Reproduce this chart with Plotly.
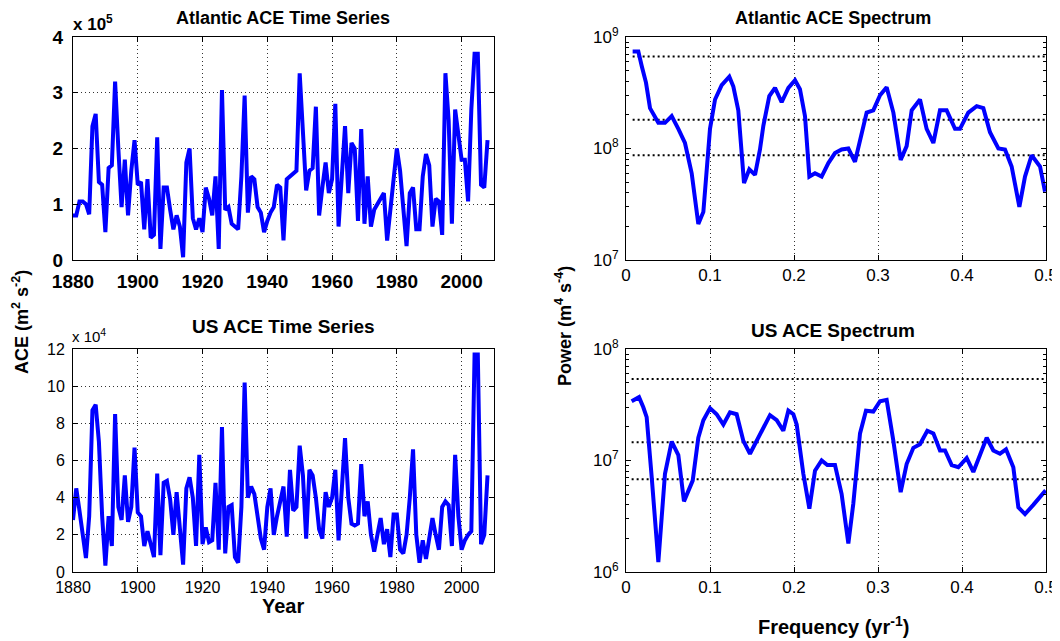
import plotly.graph_objects as go

# ---------------- data ----------------
years = list(range(1880, 2009))

# Atlantic ACE (units of 1e5 m^2 s^-2)
atl_ace = [
    0.80, 0.80, 1.05, 1.05, 1.00, 0.82, 2.40, 2.62, 1.40, 1.35,
    0.50, 1.65, 1.70, 3.20, 2.00, 0.95, 1.80, 0.80, 1.60, 2.15,
    1.35, 1.40, 0.55, 1.45, 0.40, 0.45, 2.20, 0.20, 1.30, 1.30,
    0.90, 0.55, 0.80, 0.60, 0.05, 1.75, 2.00, 0.75, 0.55, 0.75,
    0.50, 1.30, 1.10, 0.80, 1.50, 0.20, 3.05, 0.90, 0.95, 0.65,
    0.60, 0.55, 1.50, 2.95, 0.85, 1.50, 1.45, 0.95, 0.85, 0.50,
    0.70, 0.85, 0.95, 1.35, 1.30, 0.35, 1.45, 1.50, 1.55, 1.60,
    3.35, 2.20, 1.25, 1.60, 1.65, 2.75, 0.80, 1.30, 1.75, 1.20,
    1.45, 2.80, 0.60, 1.50, 2.40, 1.20, 2.10, 2.00, 0.70, 2.35,
    0.65, 1.50, 0.60, 0.90, 1.00, 1.10, 1.20, 0.35, 0.95, 1.50,
    2.00, 1.60, 0.90, 0.25, 1.20, 1.30, 0.55, 0.55, 1.50, 1.90,
    1.70, 0.60, 1.10, 1.05, 0.45, 3.35, 2.50, 0.65, 2.70, 2.30,
    1.80, 1.80, 1.05, 2.70, 3.70, 3.70, 1.35, 1.30, 2.15,
]

# US ACE (units of 1e4 m^2 s^-2)
us_ace = [
    2.8, 4.5, 3.3, 2.0, 0.75, 3.0, 8.7, 9.0, 7.0, 3.0,
    0.35, 3.0, 1.4, 8.5, 3.5, 2.8, 5.2, 2.7, 3.5, 6.7,
    3.2, 3.0, 1.4, 2.2, 1.5, 0.8, 5.3, 0.9, 4.8, 4.9,
    3.9, 2.0, 4.3, 2.0, 0.4, 4.5, 5.1, 4.0, 1.4, 6.3,
    1.5, 2.4, 1.6, 1.7, 4.8, 1.2, 7.8, 1.0, 3.5, 3.6,
    0.8, 0.5, 3.5, 10.2, 4.0, 4.6, 4.2, 3.0, 1.8, 1.2,
    3.5, 4.5, 2.0, 3.0, 3.8, 4.6, 1.9, 5.5, 3.3, 3.5,
    6.8, 5.2, 1.8, 5.5, 5.2, 4.0, 2.3, 1.8, 4.3, 3.5,
    4.0, 5.5, 1.7, 4.8, 7.2, 4.0, 2.6, 2.5, 2.6, 5.8,
    3.0, 3.8, 2.0, 1.1, 2.0, 2.9, 1.5, 2.3, 0.8, 3.1,
    3.1, 1.2, 1.0, 2.0, 4.0, 6.6, 2.0, 0.5, 1.7, 0.7,
    1.8, 2.9, 2.0, 1.2, 3.5, 3.8, 3.6, 1.4, 6.3, 3.0,
    1.2, 1.7, 2.0, 2.2, 11.7, 11.7, 1.5, 2.0, 5.2,
]

# Atlantic ACE spectrum
atl_freq = [
    0.0079, 0.0147, 0.0187, 0.0238, 0.0286, 0.0333, 0.0385, 0.0464, 0.0544, 0.0623,
    0.0702, 0.0782, 0.0861, 0.0921, 0.0960, 0.1000, 0.1060, 0.1139, 0.1230, 0.1278,
    0.1337, 0.1405, 0.1468, 0.1536, 0.1595, 0.1635, 0.1706, 0.1774, 0.1853, 0.1933,
    0.2012, 0.2071, 0.2131, 0.2183, 0.2250, 0.2329, 0.2409, 0.2488, 0.2567, 0.2647,
    0.2726, 0.2786, 0.2865, 0.2944, 0.3024, 0.3103, 0.3183, 0.3270, 0.3341, 0.3401,
    0.3500, 0.3579, 0.3659, 0.3738, 0.3817, 0.3917, 0.3976, 0.4075, 0.4175, 0.4254,
    0.4333, 0.4433, 0.4512, 0.4591, 0.4683, 0.4750, 0.4829, 0.4929, 0.4988,
]
atl_power = [
    7.4e8, 7.4e8, 5.5e8, 3.9e8, 2.3e8, 1.95e8, 1.7e8, 1.7e8, 1.95e8, 1.5e8,
    1.12e8, 6.0e7, 2.1e7, 2.7e7, 6.0e7, 1.5e8, 2.75e8, 3.7e8, 4.4e8, 3.6e8,
    2.2e8, 4.9e7, 6.5e7, 5.8e7, 9.8e7, 1.6e8, 2.95e8, 3.5e8, 2.6e8, 3.5e8,
    4.1e8, 3.4e8, 1.95e8, 5.6e7, 6.0e7, 5.6e7, 7.4e7, 9.1e7, 9.8e7, 1.0e8,
    7.6e7, 1.2e8, 2.1e8, 2.2e8, 3.0e8, 3.55e8, 2.1e8, 7.9e7, 1.05e8, 2.2e8,
    2.75e8, 1.5e8, 1.12e8, 2.2e8, 2.2e8, 1.5e8, 1.5e8, 2.1e8, 2.4e8, 2.3e8,
    1.4e8, 1.0e8, 9.8e7, 6.9e7, 3.0e7, 5.6e7, 8.7e7, 6.9e7, 4.1e7,
]
atl_sig_levels = [6.7e8, 1.81e8, 8.7e7]

# US ACE spectrum
us_freq = [
    0.0067, 0.0155, 0.0206, 0.0246, 0.0306, 0.0385, 0.0425, 0.0464, 0.0544, 0.0623,
    0.0690, 0.0742, 0.0794, 0.0861, 0.0921, 0.1000, 0.1079, 0.1159, 0.1238, 0.1317,
    0.1397, 0.1476, 0.1556, 0.1635, 0.1714, 0.1794, 0.1873, 0.1933, 0.1992, 0.2032,
    0.2111, 0.2183, 0.2250, 0.2329, 0.2397, 0.2488, 0.2567, 0.2647, 0.2706, 0.2786,
    0.2857, 0.2944, 0.3024, 0.3103, 0.3183, 0.3270, 0.3341, 0.3421, 0.3500, 0.3587,
    0.3659, 0.3738, 0.3798, 0.3877, 0.3956, 0.4056, 0.4135, 0.4214, 0.4294, 0.4373,
    0.4452, 0.4524, 0.4611, 0.4671, 0.4750, 0.4849, 0.4996,
]
us_power = [
    3.4e7, 3.7e7, 3.0e7, 2.45e7, 7.1e6, 1.23e6, 3.1e6, 7.6e6, 1.48e7, 1.12e7,
    4.3e6, 5.4e6, 6.6e6, 1.6e7, 2.3e7, 2.95e7, 2.6e7, 2.1e7, 2.7e7, 2.6e7,
    1.5e7, 1.15e7, 1.5e7, 1.95e7, 2.55e7, 2.3e7, 1.85e7, 2.8e7, 2.6e7, 2.1e7,
    7.6e6, 3.7e6, 8.1e6, 1.0e7, 9.1e6, 9.1e6, 5.0e6, 1.8e6, 4.1e6, 1.75e7,
    2.8e7, 2.75e7, 3.4e7, 3.5e7, 1.5e7, 5.2e6, 9.3e6, 1.3e7, 1.4e7, 1.85e7,
    1.75e7, 1.23e7, 1.23e7, 9.1e6, 8.7e6, 1.05e7, 7.9e6, 1.12e7, 1.6e7, 1.23e7,
    1.15e7, 1.26e7, 8.7e6, 3.8e6, 3.3e6, 4.0e6, 5.4e6,
]
us_sig_levels = [5.37e7, 1.46e7, 6.8e6]

year_ticks = [1880, 1900, 1920, 1940, 1960, 1980, 2000]
freq_ticks = [0, 0.1, 0.2, 0.3, 0.4, 0.5]
freq_ticklabels = ["0", "0.1", "0.2", "0.3", "0.4", "0.5"]

# ---------------- figure ----------------
# The page body has an 8 px margin, so the figure is 8 px smaller than the
# window and all positions are measured from the window corner minus 8 px.
OFF = 8
W, H = 1060 - OFF, 641 - OFF
FONT = "Liberation Sans, Arial, Helvetica, sans-serif"
BLUE = "#0000FF"


def px_x(p):
    return (p - OFF) / W


def px_y(p):
    return 1 - (p - OFF) / H


fig = go.Figure()

line_style = dict(color=BLUE, width=4)
fig.add_trace(go.Scatter(x=years, y=atl_ace, mode="lines", line=line_style,
                         xaxis="x", yaxis="y", showlegend=False))
fig.add_trace(go.Scatter(x=years, y=us_ace, mode="lines", line=line_style,
                         xaxis="x2", yaxis="y2", showlegend=False))

sig_style = dict(color="black", width=2, dash="2px,3px")
for lvl in atl_sig_levels:
    fig.add_trace(go.Scatter(x=[min(atl_freq), max(atl_freq)], y=[lvl, lvl], mode="lines",
                             line=sig_style, xaxis="x3", yaxis="y3", showlegend=False))
for lvl in us_sig_levels:
    fig.add_trace(go.Scatter(x=[min(us_freq), max(us_freq)], y=[lvl, lvl], mode="lines",
                             line=sig_style, xaxis="x4", yaxis="y4", showlegend=False))

fig.add_trace(go.Scatter(x=atl_freq, y=atl_power, mode="lines", line=line_style,
                         xaxis="x3", yaxis="y3", showlegend=False))
fig.add_trace(go.Scatter(x=us_freq, y=us_power, mode="lines", line=line_style,
                         xaxis="x4", yaxis="y4", showlegend=False))

left_dom = [px_x(73), px_x(494)]
right_dom = [px_x(626), px_x(1046)]
top_dom = [px_y(260), px_y(37)]
bot_dom = [px_y(572), px_y(349)]

common = dict(showline=True, linecolor="black", linewidth=1, mirror="ticks",
              ticks="inside", ticklen=5, tickcolor="black", zeroline=False,
              automargin=False)
grid = dict(showgrid=True, gridcolor="#333333", gridwidth=1, griddash="1px,3px")

tf_bold = dict(family=FONT, size=19, color="black", weight="bold")
tf_reg = dict(family=FONT, size=16, color="black")
tf_spec = dict(family=FONT, size=17, color="black")


def log_minor(lo, hi):
    return [m * 10 ** e for e in range(lo, hi) for m in range(2, 10)]


fig.update_layout(
    width=W, height=H, margin=dict(l=0, r=0, t=0, b=0, autoexpand=False),
    paper_bgcolor="white", plot_bgcolor="white",
    xaxis=dict(domain=left_dom, anchor="y", range=[1880, 2010], tickvals=year_ticks,
               tickfont=tf_bold, ticklabelstandoff=4, **common, **grid),
    yaxis=dict(domain=top_dom, anchor="x", range=[0, 4], tickvals=[0, 1, 2, 3, 4],
               tickfont=tf_bold, ticklabelstandoff=5, **common, **grid),
    xaxis2=dict(domain=left_dom, anchor="y2", range=[1880, 2010], tickvals=year_ticks,
                tickfont=tf_reg, ticklabelstandoff=1, **common, **grid),
    yaxis2=dict(domain=bot_dom, anchor="x2", range=[0, 12], tickvals=[0, 2, 4, 6, 8, 10, 12],
                tickfont=tf_reg, ticklabelstandoff=4, **common, **grid),
    xaxis3=dict(domain=right_dom, anchor="y3", range=[0, 0.5], tickvals=freq_ticks,
                ticktext=freq_ticklabels, tickfont=tf_spec, **common, **grid),
    yaxis3=dict(domain=top_dom, anchor="x3", type="log", range=[7, 9],
                tickvals=[1e7, 1e8, 1e9],
                ticktext=["10<sup>7</sup>", "10<sup>8</sup>", "10<sup>9</sup>"],
                tickfont=tf_spec, showgrid=False, ticklabelstandoff=3,
                minor=dict(tickmode="array", tickvals=log_minor(7, 9), ticks="inside",
                           ticklen=3, tickcolor="black", showgrid=False),
                **common),
    xaxis4=dict(domain=right_dom, anchor="y4", range=[0, 0.5], tickvals=freq_ticks,
                ticktext=freq_ticklabels, tickfont=tf_spec, **common, **grid),
    yaxis4=dict(domain=bot_dom, anchor="x4", type="log", range=[6, 8],
                tickvals=[1e6, 1e7, 1e8],
                ticktext=["10<sup>6</sup>", "10<sup>7</sup>", "10<sup>8</sup>"],
                tickfont=tf_spec, showgrid=False, ticklabelstandoff=3,
                minor=dict(tickmode="array", tickvals=log_minor(6, 8), ticks="inside",
                           ticklen=3, tickcolor="black", showgrid=False),
                **common),
)


def ann(text, xp, yp, size=16, bold=True, angle=0, xanchor="center"):
    fig.add_annotation(
        text=f"<b>{text}</b>" if bold else text,
        x=px_x(xp), y=px_y(yp), xref="paper", yref="paper",
        xanchor=xanchor, yanchor="middle", showarrow=False, textangle=angle,
        font=dict(family=FONT, size=size, color="black"),
    )


ann("Atlantic ACE Time Series", 283, 18, 18)
ann("US ACE Time Series", 283, 326, 19)
ann("Atlantic ACE Spectrum", 833, 18, 18)
ann("US ACE Spectrum", 833, 330, 19)
ann("x 10<sup>5</sup>", 71, 23, 17, xanchor="left")
ann("x 10<sup>4</sup>", 70, 335, 15, bold=False, xanchor="left")
ann("Year", 283, 606, 20)
ann("Frequency (yr<sup>-1</sup>)", 833, 625, 20)
ann("ACE (m<sup>2</sup> s<sup>-2</sup>)", 20, 322, 18, angle=-90)
ann("Power (m<sup>4</sup> s<sup>-4</sup>)", 563, 326, 18, angle=-90)

fig.write_html("out.html")
